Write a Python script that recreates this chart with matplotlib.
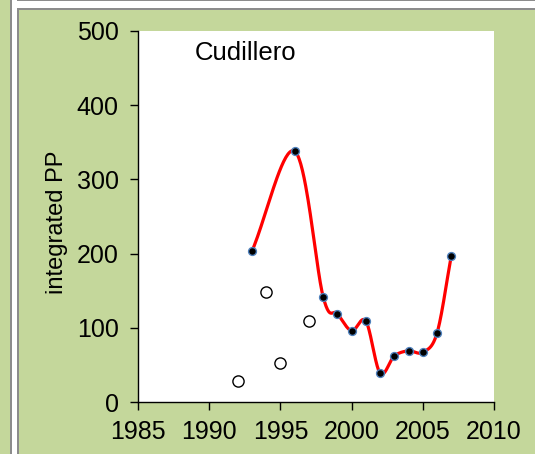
import numpy as np
import matplotlib
matplotlib.use("Agg")
import matplotlib.pyplot as plt
from matplotlib.patches import Rectangle

plt.rcParams["font.family"] = ["Liberation Sans", "DejaVu Sans"]

# smoothed series (filled markers)
years = [1993, 1996, 1998, 1999, 2000, 2001, 2002, 2003, 2004, 2005, 2006, 2007]
pp = [203, 338, 142, 119, 96, 109, 39, 62, 69, 67, 93, 197]
# separate open-circle points
years_open = [1992, 1994, 1995, 1997]
pp_open = [28, 148, 53, 109]

W, H, DPI = 535, 454, 100
GREEN = "#c4d79b"
EDGE = "#8c8c8c"


def _smooth(x, y, n=40):
    """Catmull-Rom style curve like Excel's smoothed line."""
    x = np.asarray(x, float)
    y = np.asarray(y, float)
    px = np.concatenate([[2 * x[0] - x[1]], x, [2 * x[-1] - x[-2]]])
    py = np.concatenate([[2 * y[0] - y[1]], y, [2 * y[-1] - y[-2]]])
    xs, ys = [], []
    t = np.linspace(0, 1, n)
    for i in range(1, len(px) - 2):
        p0, p1, p2, p3 = (np.array([px[j], py[j]]) for j in (i - 1, i, i + 1, i + 2))
        c1 = p1 + (p2 - p0) / 6.0
        c2 = p2 - (p3 - p1) / 6.0
        b = ((1 - t) ** 3)[:, None] * p1 + (3 * (1 - t) ** 2 * t)[:, None] * c1 \
            + (3 * (1 - t) * t ** 2)[:, None] * c2 + (t ** 3)[:, None] * p2
        xs.append(b[:, 0])
        ys.append(b[:, 1])
    return np.concatenate(xs), np.concatenate(ys)


fig = plt.figure(figsize=(W / DPI, H / DPI), dpi=DPI)
fig.patch.set_facecolor(GREEN)

# frame decoration: white gutters with grey rules
def _px(x0, y0, w, h, color):
    fig.patches.append(Rectangle((x0 / W, 1 - (y0 + h) / H), w / W, h / H,
                                 transform=fig.transFigure, facecolor=color,
                                 edgecolor="none", zorder=0))

_px(12, 0, W - 12, 8, "white")
_px(12, 0, 5, H, "white")
_px(10, 0, 2, H, EDGE)
_px(17, 8, 2, H - 8, EDGE)
_px(17, 8, W - 17, 2, EDGE)
_px(17, 0, W - 17, 1, EDGE)
_px(0, 0, 10, 8, GREEN)

ax = fig.add_axes([138 / W, 1 - 402 / H, (494 - 138) / W, (402 - 31) / H])
ax.set_facecolor("white")

sx, sy = _smooth(years, pp)
ax.plot(sx, sy, color="red", lw=2.3, zorder=2, clip_on=False)
ax.scatter(years, pp, s=32, color="black", edgecolors="#4f81bd", linewidths=1.0,
           zorder=3, clip_on=False)
ax.scatter(years_open, pp_open, s=65, color="white", edgecolors="black",
           linewidths=1.0, zorder=3, clip_on=False)

ax.set_xlim(1985, 2010)
ax.set_ylim(0, 500)
ax.set_xticks(range(1985, 2011, 5))
ax.set_yticks(range(0, 501, 100))
for s in ("top", "right"):
    ax.spines[s].set_visible(False)
for s in ("left", "bottom"):
    ax.spines[s].set_color("black")
    ax.spines[s].set_linewidth(1.0)
ax.tick_params(direction="out", length=6, width=1.0, labelsize=18)
ax.tick_params(axis="y", pad=8)
ax.tick_params(axis="x", pad=7)
ax.set_ylabel("integrated PP", fontsize=17)
ax.yaxis.set_label_coords(-0.197, 0.485)
ax.text(1989.0, 461, "Cudillero", fontsize=18.5, ha="left", va="baseline")

fig.savefig("out.png", dpi=DPI, facecolor=GREEN)
